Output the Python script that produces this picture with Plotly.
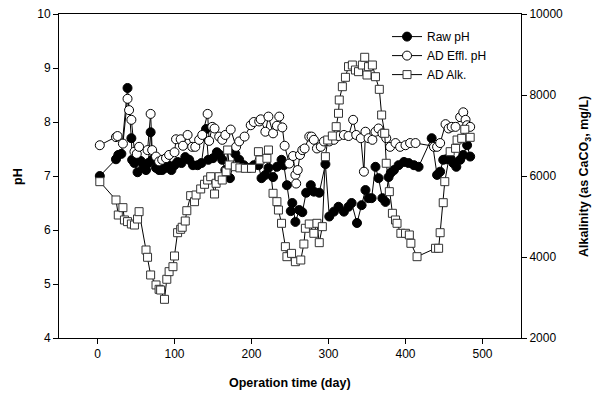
import plotly.graph_objects as go

# ---- Data ----
raw_day = [3, 24, 27, 31, 39, 44, 45, 48, 52, 56, 60, 63, 66, 69, 71, 76, 80, 84, 88, 92,
           96, 100, 104, 109, 114, 119, 124, 130, 135, 141, 144, 150, 155, 159, 162, 166, 172, 179, 184, 190,
           197, 203, 209, 213, 218, 222, 228, 233, 239, 242, 246, 251, 253, 257, 262, 266, 271, 277, 281, 288,
           296, 301, 307, 313, 320, 326, 330, 337, 343, 348, 352, 356, 361, 365, 370, 374, 378, 381, 385, 391,
           398, 404, 411, 417, 434, 441, 445, 449, 453, 459, 462, 466, 471, 475, 480, 484]
raw_ph = [7.00, 7.31, 7.39, 7.41, 8.63, 7.70, 7.30, 7.24, 7.07, 7.28, 7.17, 7.11, 7.24, 7.81, 7.30, 7.15, 7.11, 7.11, 7.15, 7.20,
          7.11, 7.20, 7.26, 7.24, 7.35, 7.30, 7.20, 7.20, 7.24, 7.87, 7.30, 7.33, 7.44, 7.39, 7.30, 7.11, 6.96, 7.41, 7.30, 7.20,
          7.15, 7.20, 7.20, 6.96, 7.02, 7.15, 6.98, 7.17, 7.30, 7.20, 6.83, 6.35, 6.50, 6.15, 6.37, 6.33, 6.69, 6.83, 6.71, 6.69,
          7.22, 6.25, 6.34, 6.43, 6.34, 6.43, 6.50, 6.13, 6.46, 6.74, 6.59, 6.59, 7.17, 6.96, 6.59, 6.52, 6.98, 7.06, 7.11, 7.20,
          7.26, 7.24, 7.20, 7.17, 7.70, 7.02, 7.08, 7.30, 7.31, 7.31, 7.24, 7.17, 7.30, 7.39, 7.57, 7.36]

eff_day = [3, 24, 26, 33, 39, 41, 44, 48, 51, 54, 65, 69, 71, 76, 80, 84, 89, 93, 100, 102,
           108, 111, 117, 123, 127, 132, 136, 143, 145, 149, 152, 158, 162, 166, 173, 180, 184, 191, 199, 203,
           210, 212, 218, 222, 228, 233, 236, 240, 243, 249, 254, 257, 258, 260, 263, 266, 269, 275, 278, 281,
           285, 290, 294, 301, 307, 313, 320, 326, 332, 336, 342, 346, 348, 352, 357, 361, 365, 370, 375, 380,
           387, 393, 400, 406, 413, 437, 441, 445, 452, 456, 460, 465, 471, 475, 478, 480, 484]
eff_ph = [7.57, 7.72, 7.74, 7.60, 8.43, 8.22, 8.04, 7.45, 7.41, 7.54, 7.48, 8.15, 7.48, 7.36, 7.27, 7.30, 7.33, 7.39, 7.44, 7.68,
          7.68, 7.56, 7.76, 7.54, 7.54, 7.67, 7.76, 8.15, 7.65, 7.91, 7.88, 7.73, 7.67, 7.76, 7.86, 7.54, 7.64, 7.73, 7.94, 8.00,
          8.01, 8.05, 7.82, 8.10, 7.79, 7.93, 8.10, 7.90, 7.56, 7.23, 7.37, 7.02, 6.86, 7.11, 7.39, 7.48, 7.51, 7.73, 7.73, 7.67,
          7.51, 7.54, 7.64, 7.64, 7.67, 7.74, 7.76, 7.74, 8.04, 7.76, 7.70, 7.08, 7.82, 7.70, 7.67, 7.82, 7.88, 7.79, 7.70, 7.54,
          7.61, 7.54, 7.57, 7.61, 7.61, 7.54, 7.54, 7.61, 7.96, 7.88, 7.91, 7.91, 8.09, 8.18, 8.04, 7.94, 7.91]

alk_day = [3, 24, 27, 33, 35, 39, 44, 48, 52, 54, 63, 65, 69, 76, 80, 82, 87, 90, 93, 98,
           100, 104, 108, 110, 114, 116, 121, 126, 128, 134, 139, 143, 147, 152, 154, 158, 162, 167, 169, 171,
           179, 185, 192, 200, 209, 211, 220, 222, 228, 233, 235, 239, 244, 246, 252, 257, 264, 268, 270, 275,
           281, 285, 288, 292, 296, 299, 305, 310, 313, 314, 318, 322, 326, 331, 335, 339, 344, 347, 350, 352,
           357, 361, 366, 369, 373, 375, 379, 383, 387, 389, 394, 400, 405, 407, 415, 439, 443, 445, 449, 451,
           458, 465, 467, 473, 477, 484]
alk_val = [5860, 5408, 5037, 5218, 4914, 4873, 4815, 4790, 4938, 5119, 4173, 3993, 3556, 3310, 3202, 3185, 2955, 3450, 3638, 3761,
           4025, 4600, 4684, 4734, 4889, 5143, 5514, 5366, 5531, 5680, 5795, 5901, 5983, 5556, 5820, 5983, 5901, 6107, 6642, 6272,
           6230, 6200, 6190, 6190, 6600, 6395, 6437, 6642, 5573, 5366, 5160, 4832, 4255, 4008, 4090, 3884, 3926, 4321, 4709, 4815,
           4585, 4832, 4354, 4749, 6477, 6889, 6988, 7218, 7548, 7877, 8205, 8437, 8700, 8740, 8617, 8576, 8740, 8931, 8494, 8700,
           8740, 8452, 8140, 7506, 7054, 6314, 5613, 5079, 4914, 4832, 4585, 4585, 4544, 4338, 4008, 4215, 4215, 4600, 5341, 5860,
           6600, 6684, 6889, 6930, 7153, 6955]

x_ticks = [0, 100, 200, 300, 400, 500]
ph_ticks = [4, 5, 6, 7, 8, 9, 10]
alk_ticks = [2000, 4000, 6000, 8000, 10000]

x_title = "<b>Operation time (day)</b>"
y_title = "<b>pH</b>"
y2_title = "<b>Alkalinity (as CaCO<sub>3</sub>, mg/L)</b>"

FONT = "Liberation Sans, Arial, sans-serif"

fig = go.Figure()
fig.add_trace(go.Scatter(
    x=raw_day, y=raw_ph, name="Raw pH", mode="lines+markers",
    line=dict(color="black", width=1),
    marker=dict(symbol="circle", size=9, color="black", line=dict(color="black", width=1)),
))
fig.add_trace(go.Scatter(
    x=eff_day, y=eff_ph, name="AD Effl. pH", mode="lines+markers",
    line=dict(color="black", width=1),
    marker=dict(symbol="circle", size=9, color="white", line=dict(color="black", width=1)),
))
fig.add_trace(go.Scatter(
    x=alk_day, y=alk_val, name="AD Alk.", mode="lines+markers", yaxis="y2",
    line=dict(color="black", width=1),
    marker=dict(symbol="square", size=8, color="white", line=dict(color="#333333", width=1)),
))

axis_common = dict(showgrid=False, zeroline=False, showline=True, linecolor="black", linewidth=1,
                   ticks="outside", ticklen=5, tickcolor="black", automargin=False,
                   tickfont=dict(family=FONT, size=12, color="black"))

title_font = dict(family=FONT, size=12.5, color="black")

fig.update_layout(
    width=600, height=394,
    margin=dict(l=59, r=79, t=14, b=56, autoexpand=False),
    paper_bgcolor="white", plot_bgcolor="white",
    font=dict(family=FONT, size=12, color="black"),
    xaxis=dict(range=[-50, 550], tickvals=x_ticks, mirror=True, **axis_common),
    yaxis=dict(range=[4, 10], tickvals=ph_ticks, **axis_common),
    yaxis2=dict(range=[2000, 10000], tickvals=alk_ticks, tickformat="d", overlaying="y", side="right",
                **axis_common),
    legend=dict(x=0.71, y=0.975, xanchor="left", yanchor="top", bgcolor="rgba(0,0,0,0)",
                font=dict(family=FONT, size=12), tracegroupgap=0, itemwidth=30),
    showlegend=True,
    annotations=[
        dict(text=x_title, xref="paper", yref="paper", x=0.5, y=-0.139, xanchor="center", yanchor="middle",
             showarrow=False, font=title_font),
        dict(text=y_title, xref="paper", yref="paper", x=-0.089, y=0.5, xanchor="center", yanchor="middle",
             textangle=-90, showarrow=False, font=title_font),
        dict(text=y2_title, xref="paper", yref="paper", x=1.1385, y=0.5, xanchor="center", yanchor="middle",
             textangle=-90, showarrow=False, font=title_font),
    ],
)

fig.write_html("out.html", config={"displayModeBar": False},
               post_script="document.body.style.margin='0';")
